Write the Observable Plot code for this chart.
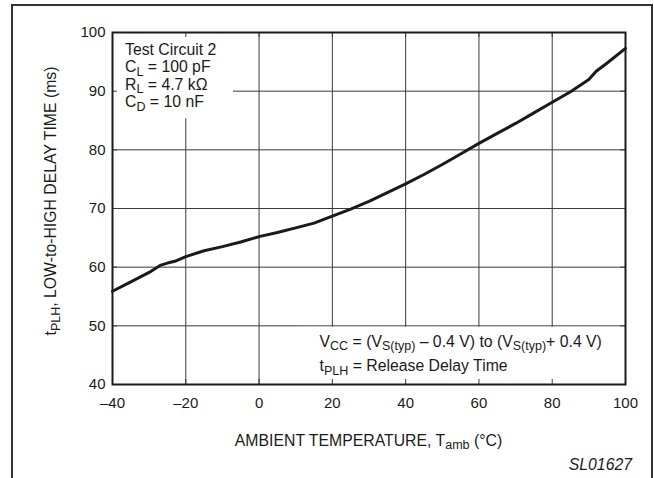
<!DOCTYPE html>
<html><head><meta charset="utf-8">
<script src="https://cdn.jsdelivr.net/npm/d3@7"></script>
<script src="https://cdn.jsdelivr.net/npm/@observablehq/plot@0.6"></script>
<style>
body{margin:0;background:#fff}
svg{font-family:"Liberation Sans",Arial,sans-serif}
</style>
</head><body><div id="chart"></div>
<script>
// ---- data ----
const temps  = [-40, -35, -30, -27, -25, -23, -20, -15, -10, -5, 0, 5, 10, 15, 20, 25, 30, 35, 40, 45, 50, 55, 60, 65, 70, 75, 80, 85, 90, 92, 95, 100];
const delays = [55.9, 57.5, 59.1, 60.3, 60.7, 61.0, 61.8, 62.8, 63.5, 64.3, 65.2, 65.9, 66.7, 67.5, 68.7, 69.9, 71.2, 72.7, 74.2, 75.8, 77.5, 79.3, 81.1, 82.8, 84.5, 86.3, 88.1, 89.9, 92.0, 93.4, 94.8, 97.3];
const xTicks = [-40, -20, 0, 20, 40, 60, 80, 100];
const yTicks = [40, 50, 60, 70, 80, 90, 100];

// text (segments: [text, isSubscript])
const legendLines = [
  [["Test Circuit 2"]],
  [["C"], ["L", 1], [" = 100 pF"]],
  [["R"], ["L", 1], [" = 4.7 kΩ"]],
  [["C"], ["D", 1], [" = 10 nF"]]
];
const noteLines = [
  [["V"], ["CC", 1], [" = (V"], ["S(typ)", 1], [" – 0.4 V) to (V"], ["S(typ)", 1], ["+ 0.4 V)"]],
  [["t"], ["PLH", 1], [" = Release Delay Time"]]
];
const yTitle = [["t"], ["PLH", 1], [", LOW-to-HIGH DELAY TIME (ms)"]];
const xTitle = [["AMBIENT TEMPERATURE, T"], ["amb", 1], [" (°C)"]];
const figId = "SL01627";

// annotation backgrounds (layout, in data units)
const legendBox = {x1: -40, x2: -7, y1: 85.3, y2: 100};
const noteBox = {x1: 12, x2: 100, y1: 40, y2: 49.75};

const data = temps.map((t, i) => ({t, v: delays[i]}));
const ink = "#1a1a1a", grid = "#3a3a3a";
const FS = 15.8, SUB = 12.5;

const plot = Plot.plot({
  width: 654, height: 478,
  marginLeft: 112, marginRight: 29, marginTop: 32, marginBottom: 94,
  style: {fontFamily: "Liberation Sans, Arial, sans-serif", fontSize: "15px", color: ink, background: "#fff"},
  x: {domain: [-40, 100], ticks: xTicks, tickSize: 0, tickPadding: 13, label: null,
      tickFormat: d => d < 0 ? "–" + Math.abs(d) : String(d)},
  y: {domain: [40, 100], ticks: yTicks, tickSize: 0, tickPadding: 7, label: null},
  marks: [
    Plot.gridX(xTicks, {stroke: grid, strokeOpacity: 1, strokeWidth: 1}),
    Plot.gridY(yTicks, {stroke: grid, strokeOpacity: 1, strokeWidth: 1}),
    Plot.rect([legendBox, noteBox], {x1: "x1", x2: "x2", y1: "y1", y2: "y2", fill: "#fff"}),
    Plot.tickX(xTicks, {x: d => d, insetTop: 347, stroke: grid}),
    Plot.tickX(xTicks, {x: d => d, insetBottom: 347, stroke: grid}),
    Plot.tickY(yTicks, {y: d => d, insetRight: 508, stroke: grid}),
    Plot.tickY(yTicks, {y: d => d, insetLeft: 508, stroke: grid}),
    Plot.frame({stroke: ink, strokeWidth: 2}),
    Plot.line(data, {x: "t", y: "v", stroke: ink, strokeWidth: 3, strokeLinejoin: "round", strokeLinecap: "round"})
  ]
});

const svg = d3.select(plot);
function rich(g, x, y, parts, attrs = {}) {
  const t = g.append("text").attr("x", x).attr("y", y).attr("fill", ink)
    .attr("font-size", FS).attr("text-anchor", "start");
  for (const k in attrs) t.attr(k, attrs[k]);
  let prevSub = false;
  for (const [s, sub] of parts) {
    const ts = t.append("tspan").text(s);
    if (sub && !prevSub) ts.attr("dy", 3.5).attr("font-size", SUB);
    else if (sub) ts.attr("font-size", SUB);
    else if (!sub && prevSub) ts.attr("dy", -3.5);
    prevSub = !!sub;
  }
  return t;
}
const g = svg.append("g");
const sx = plot.scale("x"), sy = plot.scale("y");
// outer border
g.append("rect").attr("x", 12).attr("y", 5).attr("width", 640).attr("height", 520)
  .attr("fill", "none").attr("stroke", "#333").attr("stroke-width", 2);
legendLines.forEach((ln, i) => rich(g, sx.apply(-40) + 13, sy.apply(100) + 22.5 + i * 17.5, ln));
noteLines.forEach((ln, i) => rich(g, sx.apply(12) + 17, sy.apply(40) - 37.5 + i * 24.5, ln));
rich(g, 0, 0, yTitle, {"text-anchor": "middle", transform: `translate(56,201) rotate(-90)`});
rich(g, (sx.apply(-40) + sx.apply(100)) / 2, 445.5, xTitle, {"text-anchor": "middle"});
rich(g, 632, 470, [[figId]], {"text-anchor": "end", "font-style": "italic"});

document.getElementById("chart").appendChild(plot);
</script>
</body></html>
